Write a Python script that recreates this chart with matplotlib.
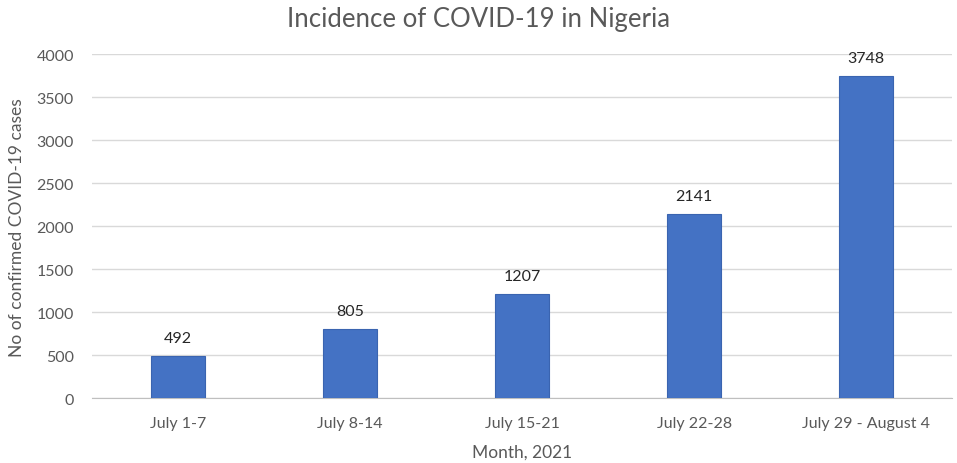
import matplotlib.pyplot as plt

plt.rcParams['font.family'] = ['Lato', 'DejaVu Sans']

weeks = ["July 1-7", "July 8-14", "July 15-21", "July 22-28", "July 29 - August 4"]
cases = [492, 805, 1207, 2141, 3748]

grey = "#595959"

fig = plt.figure(figsize=(9.57, 4.64), dpi=100)
ax = fig.add_axes([0.096, 0.14, 0.899, 0.741])

x = range(len(weeks))
bars = ax.bar(x, cases, width=0.315, color="#4472C4", edgecolor="#3A64B0", linewidth=0.8, zorder=3)
for b, v in zip(bars, cases):
    ax.text(b.get_x() + b.get_width() / 2, v + 130, str(v), ha="center", va="bottom",
            fontsize=11.5, color="#262626")

ax.set_xlim(-0.5, len(weeks) - 0.5)
ax.set_ylim(0, 4000)
ax.set_yticks(range(0, 4001, 500))
ax.set_xticks(list(x))
ax.set_xticklabels(weeks)
ax.grid(axis="y", color="#D9D9D9", linewidth=1, zorder=0)
for s in ["top", "right", "left"]:
    ax.spines[s].set_visible(False)
ax.spines["bottom"].set_color("#BFBFBF")
ax.tick_params(axis="both", length=0, labelsize=11.5, colors=grey)
ax.tick_params(axis="y", pad=13)
ax.tick_params(axis="x", pad=13)

fig.suptitle("Incidence of COVID-19 in Nigeria", fontsize=18.5, color=grey, x=0.5, y=0.985, va="top")
ax.set_xlabel("Month, 2021", fontsize=12.5, color=grey, labelpad=10)
ax.set_ylabel("No of confirmed COVID-19 cases", fontsize=12.5, color=grey, labelpad=8)

fig.savefig("out.png", dpi=100)
